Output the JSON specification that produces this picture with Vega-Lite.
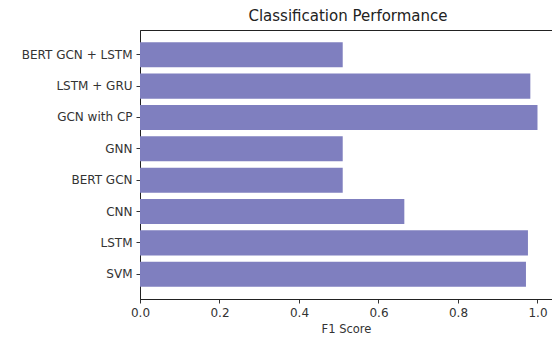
{
  "$schema": "https://vega.github.io/schema/vega-lite/v6.json",
  "autosize": "none",
  "width": 412,
  "height": 269,
  "padding": {"left": 140, "top": 30, "right": 0, "bottom": 42},
  "background": "white",
  "config": {
    "font": "DejaVu Sans",
    "view": {"stroke": "#222", "strokeWidth": 1}
  },
  "title": {
    "text": "Classification Performance",
    "fontSize": 15,
    "fontWeight": "normal",
    "color": "#222",
    "offset": 6,
    "anchor": "middle",
    "dx": 2
  },
  "data": {
    "values": [
      {"model": "BERT GCN + LSTM", "f1": 0.51},
      {"model": "LSTM + GRU", "f1": 0.982},
      {"model": "GCN with CP", "f1": 1.0},
      {"model": "GNN", "f1": 0.51},
      {"model": "BERT GCN", "f1": 0.51},
      {"model": "CNN", "f1": 0.665},
      {"model": "LSTM", "f1": 0.976},
      {"model": "SVM", "f1": 0.971}
    ]
  },
  "mark": {"type": "bar", "color": "#7f7fbf"},
  "encoding": {
    "y": {
      "field": "model",
      "type": "nominal",
      "sort": null,
      "scale": {"paddingInner": 0.2, "paddingOuter": 0.39},
      "axis": {
        "title": null,
        "labelFontSize": 12,
        "labelColor": "#333",
        "tickSize": 4,
        "tickColor": "#333",
        "labelPadding": 4,
        "domainColor": "#222"
      }
    },
    "x": {
      "field": "f1",
      "type": "quantitative",
      "scale": {"domain": [0, 1.0365], "nice": false, "zero": true},
      "axis": {
        "title": "F1 Score",
        "titleFontSize": 11.5,
        "titleFontWeight": "normal",
        "titleColor": "#333",
        "titlePadding": 5,
        "values": [0, 0.2, 0.4, 0.6, 0.8, 1.0],
        "format": ".1f",
        "labelFlush": false,
        "labelFontSize": 12,
        "labelColor": "#333",
        "labelPadding": 4,
        "tickSize": 4,
        "tickColor": "#333",
        "domainColor": "#222",
        "grid": false
      }
    }
  }
}
